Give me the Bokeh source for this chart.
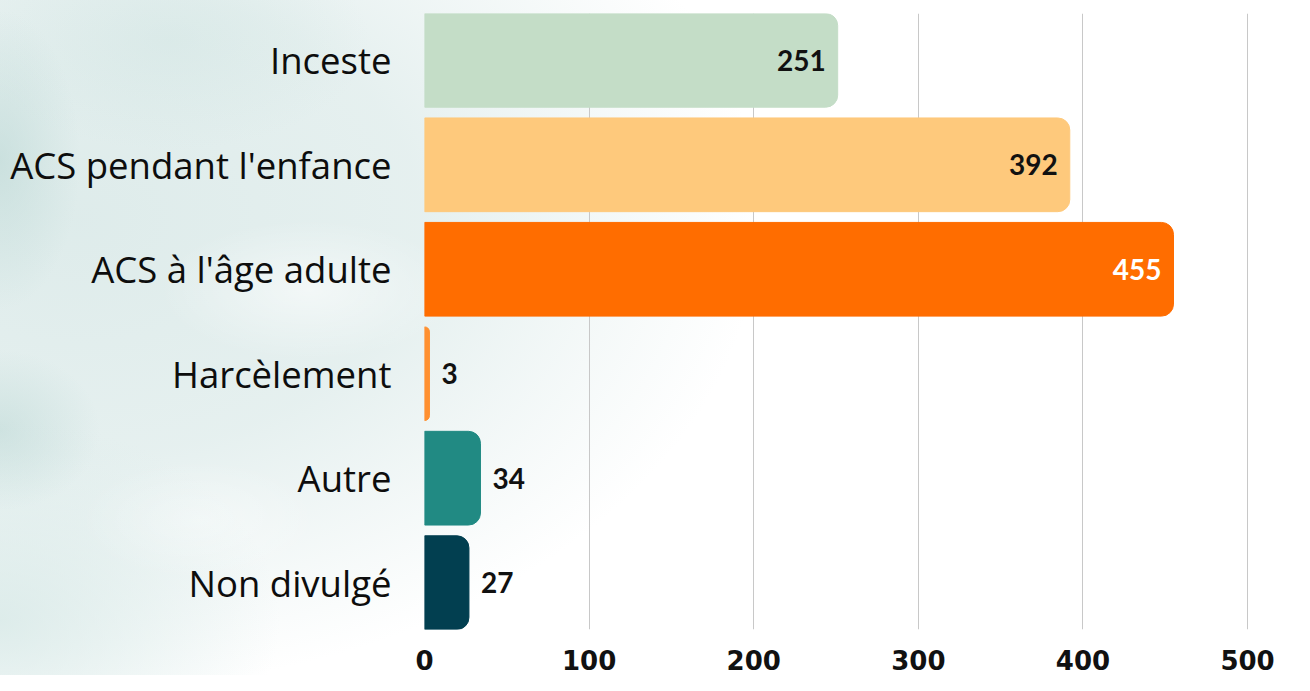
from bokeh.plotting import figure
from bokeh.models import Range1d, FixedTicker, ColumnDataSource
from bokeh.embed import file_html
from bokeh.resources import INLINE
from bokeh.core.properties import value

# ---- data ----
categories = ["Inceste", "ACS pendant l'enfance", "ACS à l'âge adulte",
              "Harcèlement", "Autre", "Non divulgé"]
counts = [251, 392, 455, 3, 34, 27]
bar_colors = ["#c4ddc7", "#fec97c", "#ff6d00", "#ff9030", "#218a83", "#023f50"]
label_colors = ["#111111", "#111111", "#ffffff", "#111111", "#111111", "#111111"]
x_ticks = [0, 100, 200, 300, 400, 500]

n = len(categories)
ypos = [n - 1 - i for i in range(n)]  # first category at top

W, H = 1294, 675
p = figure(width=W, height=H, output_backend="svg", toolbar_location=None,
           x_range=Range1d(0, 520), y_range=Range1d(-0.4486, n - 1 + 0.4486),
           min_border_left=424, min_border_right=14, min_border_top=13,
           min_border_bottom=46)

p.border_fill_color = None
p.background_fill_color = None
p.outline_line_color = None

wash = ", ".join([
    "radial-gradient(ellipse 150px 70px at 310px 290px, rgba(255,255,255,0.55) 0%, rgba(255,255,255,0) 100%)",
    "radial-gradient(ellipse 120px 60px at 200px 520px, rgba(255,255,255,0.35) 0%, rgba(255,255,255,0) 100%)",
    "radial-gradient(ellipse 80px 150px at 0px 160px, rgba(188,216,213,0.6) 0%, rgba(188,216,213,0) 100%)",
    "radial-gradient(ellipse 100px 80px at 0px 430px, rgba(188,216,213,0.55) 0%, rgba(188,216,213,0) 100%)",
    "radial-gradient(ellipse 200px 110px at 170px 40px, rgba(200,224,221,0.35) 0%, rgba(200,224,221,0) 100%)",
    "radial-gradient(ellipse 280px 200px at 0px 620px, rgba(212,231,229,0.75) 0%, rgba(212,231,229,0) 100%)",
    "radial-gradient(ellipse 680px 470px at 80px 220px, rgba(221,235,234,0.97) 0%, rgba(221,235,234,0.75) 50%, rgba(221,235,234,0) 100%)",
    "linear-gradient(#ffffff, #ffffff)",
])
p.styles = {"background-image": wash}

src = ColumnDataSource(dict(y=ypos, right=counts, color=bar_colors, cat=categories))
p.hbar(y="y", left=0, right="right", height=0.897, color="color", source=src,
       border_radius={"top_left": 0, "top_right": 12, "bottom_right": 12, "bottom_left": 0})

# value labels: inside large bars, outside small ones
inside = [i for i in range(n) if counts[i] > 200]
outside = [i for i in range(n) if counts[i] <= 200]
src_in = ColumnDataSource(dict(x=[counts[i] for i in inside], y=[ypos[i] for i in inside],
                               t=[str(counts[i]) for i in inside],
                               c=[label_colors[i] for i in inside]))
src_out = ColumnDataSource(dict(x=[counts[i] for i in outside], y=[ypos[i] for i in outside],
                                t=[str(counts[i]) for i in outside],
                                c=[label_colors[i] for i in outside]))
p.text(x="x", y="y", text="t", text_color="c", source=src_in, x_offset=-12,
       text_align="right", text_baseline="middle", text_font=value("Lato"),
       text_font_size="28px", text_font_style="bold")
p.text(x="x", y="y", text="t", text_color="c", source=src_out, x_offset=12,
       text_align="left", text_baseline="middle", text_font=value("Lato"),
       text_font_size="28px", text_font_style="bold")

# axes
p.xaxis.ticker = FixedTicker(ticks=x_ticks)
p.xaxis.axis_line_color = None
p.xaxis.major_tick_line_color = None
p.xaxis.minor_tick_line_color = None
p.xaxis.major_label_standoff = 14
p.xaxis.major_label_text_font = "DejaVu Sans"
p.xaxis.major_label_text_font_style = "bold"
p.xaxis.major_label_text_font_size = "26px"
p.xaxis.major_label_text_color = "#111111"

p.yaxis.ticker = FixedTicker(ticks=ypos)
p.yaxis.major_label_overrides = {ypos[i]: categories[i] for i in range(n)}
p.yaxis.axis_line_color = None
p.yaxis.major_tick_line_color = None
p.yaxis.minor_tick_line_color = None
p.yaxis.major_label_standoff = 27
p.yaxis.major_label_text_font = "Open Sans"
p.yaxis.major_label_text_font_size = "36.5px"
p.yaxis.major_label_text_color = "#0d0d0d"

p.xgrid.ticker = FixedTicker(ticks=x_ticks)
p.xgrid.grid_line_color = "#c8c8c8"
p.xgrid.grid_line_width = 1
p.ygrid.grid_line_color = None

open("out.html", "w").write(file_html(p, INLINE))
